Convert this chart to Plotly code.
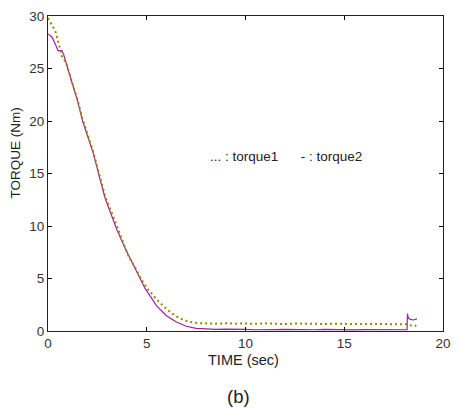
import plotly.graph_objects as go

# torque1 (dotted, olive)
t1 = [0.0, 0.1, 0.2, 0.3, 0.4, 0.5, 0.6, 0.7, 0.9, 1.0, 1.2, 1.5, 1.75, 2.0, 2.3, 2.6, 2.9,
      3.2, 3.5, 3.9, 4.1, 4.4, 4.7, 5.0, 5.5, 6.0, 6.4, 6.8, 7.2, 7.6, 8.0, 8.5, 9.0, 9.5,
      10.0, 10.5, 11.0, 11.5, 12.0, 12.5, 13.0, 13.5, 14.0, 14.5, 15.0, 15.5, 16.0, 16.5,
      17.0, 17.5, 18.0, 18.15, 18.25, 18.4, 18.55, 18.65]
torque1 = [29.8, 29.5, 29.2, 28.8, 28.4, 27.6, 26.9, 26.2, 25.6, 25.0, 23.9, 22.0, 20.2, 18.7,
           17.0, 14.9, 12.8, 11.4, 9.9, 8.1, 7.0, 6.1, 5.0, 4.1, 3.0, 2.1, 1.5, 1.1, 0.85,
           0.75, 0.72, 0.70, 0.74, 0.69, 0.72, 0.68, 0.73, 0.70, 0.66, 0.71, 0.68, 0.72, 0.67,
           0.70, 0.66, 0.69, 0.65, 0.68, 0.64, 0.66, 0.63, 0.66, 0.58, 0.52, 0.55, 0.48]

# torque2 (solid, purple)
t2 = [0.0, 0.2, 0.4, 0.5, 0.7, 0.8, 1.0, 1.2, 1.5, 1.75, 2.0, 2.3, 2.6, 2.9, 3.2, 3.5, 3.9,
      4.4, 4.9, 5.5, 6.0, 6.5, 7.0, 7.5, 8.0, 8.5, 9.0, 9.5, 10.0, 10.5, 11.0, 11.5, 12.0,
      12.5, 13.0, 13.5, 14.0, 14.5, 15.0, 15.5, 16.0, 16.5, 17.0, 17.5, 18.0, 18.18, 18.2,
      18.25, 18.35, 18.5, 18.68]
torque2 = [28.3, 28.0, 27.2, 26.7, 26.7, 26.3, 25.0, 23.7, 21.9, 20.0, 18.5, 16.9, 14.7, 12.6,
           11.1, 9.6, 7.9, 6.0, 4.1, 2.4, 1.45, 0.85, 0.45, 0.25, 0.18, 0.15, 0.17, 0.13, 0.15,
           0.12, 0.16, 0.13, 0.15, 0.12, 0.14, 0.12, 0.15, 0.12, 0.14, 0.11, 0.14, 0.12, 0.13,
           0.11, 0.12, 0.12, 1.65, 1.2, 1.1, 1.05, 1.15]

x_ticks = [0, 5, 10, 15, 20]
y_ticks = [0, 5, 10, 15, 20, 25, 30]

FONT = "Liberation Sans, Arial, sans-serif"

fig = go.Figure()
fig.add_trace(go.Scatter(x=t2, y=torque2, mode="lines", name="torque2",
                         line=dict(color="#a020a0", width=1.2)))
fig.add_trace(go.Scatter(x=t1, y=torque1, mode="lines", name="torque1",
                         line=dict(color="#8c8c00", width=2, dash="2px,3px")))

axis_common = dict(showgrid=False, zeroline=False, ticks="inside", ticklen=4,
                   tickcolor="#000", linecolor="#222", linewidth=1, mirror="ticks",
                   showline=True, ticklabeloverflow="allow",
                   tickfont=dict(family=FONT, size=13.5, color="#333"))

fig.update_layout(
    width=460, height=408,
    margin=dict(l=48, r=9, t=13, b=77),
    paper_bgcolor="white", plot_bgcolor="white",
    showlegend=False,
    xaxis=dict(range=[0, 20], tickvals=x_ticks, **axis_common),
    yaxis=dict(range=[0, 30], tickvals=y_ticks, **axis_common),
    annotations=[
        dict(text="TIME (sec)", xref="paper", yref="paper", x=0.494, y=-0.091,
             xanchor="center", yanchor="middle",
             showarrow=False, font=dict(family=FONT, size=14.5, color="#222")),
        dict(text="TORQUE (Nm)", xref="paper", yref="paper", x=-0.0826, y=0.5645,
             xanchor="center", yanchor="middle",
             textangle=-90, showarrow=False, font=dict(family=FONT, size=13.5, color="#222")),
        dict(text="(b)", xref="paper", yref="paper", x=0.482, y=-0.2075,
             xanchor="center", yanchor="middle",
             showarrow=False, font=dict(family=FONT, size=18.5, color="#222")),
        dict(text="... : torque1&nbsp;&nbsp;&nbsp;&nbsp;&nbsp;&nbsp;- : torque2", xref="x", yref="y",
             x=12.04, y=16.6, xanchor="center", yanchor="middle",
             showarrow=False, font=dict(family=FONT, size=13.5, color="#222")),
    ],
)

# remove the default page margin so the 460x408 figure fills the window exactly
fig.write_html("out.html", config={"displayModeBar": False},
               post_script="document.body.style.margin='0';")
